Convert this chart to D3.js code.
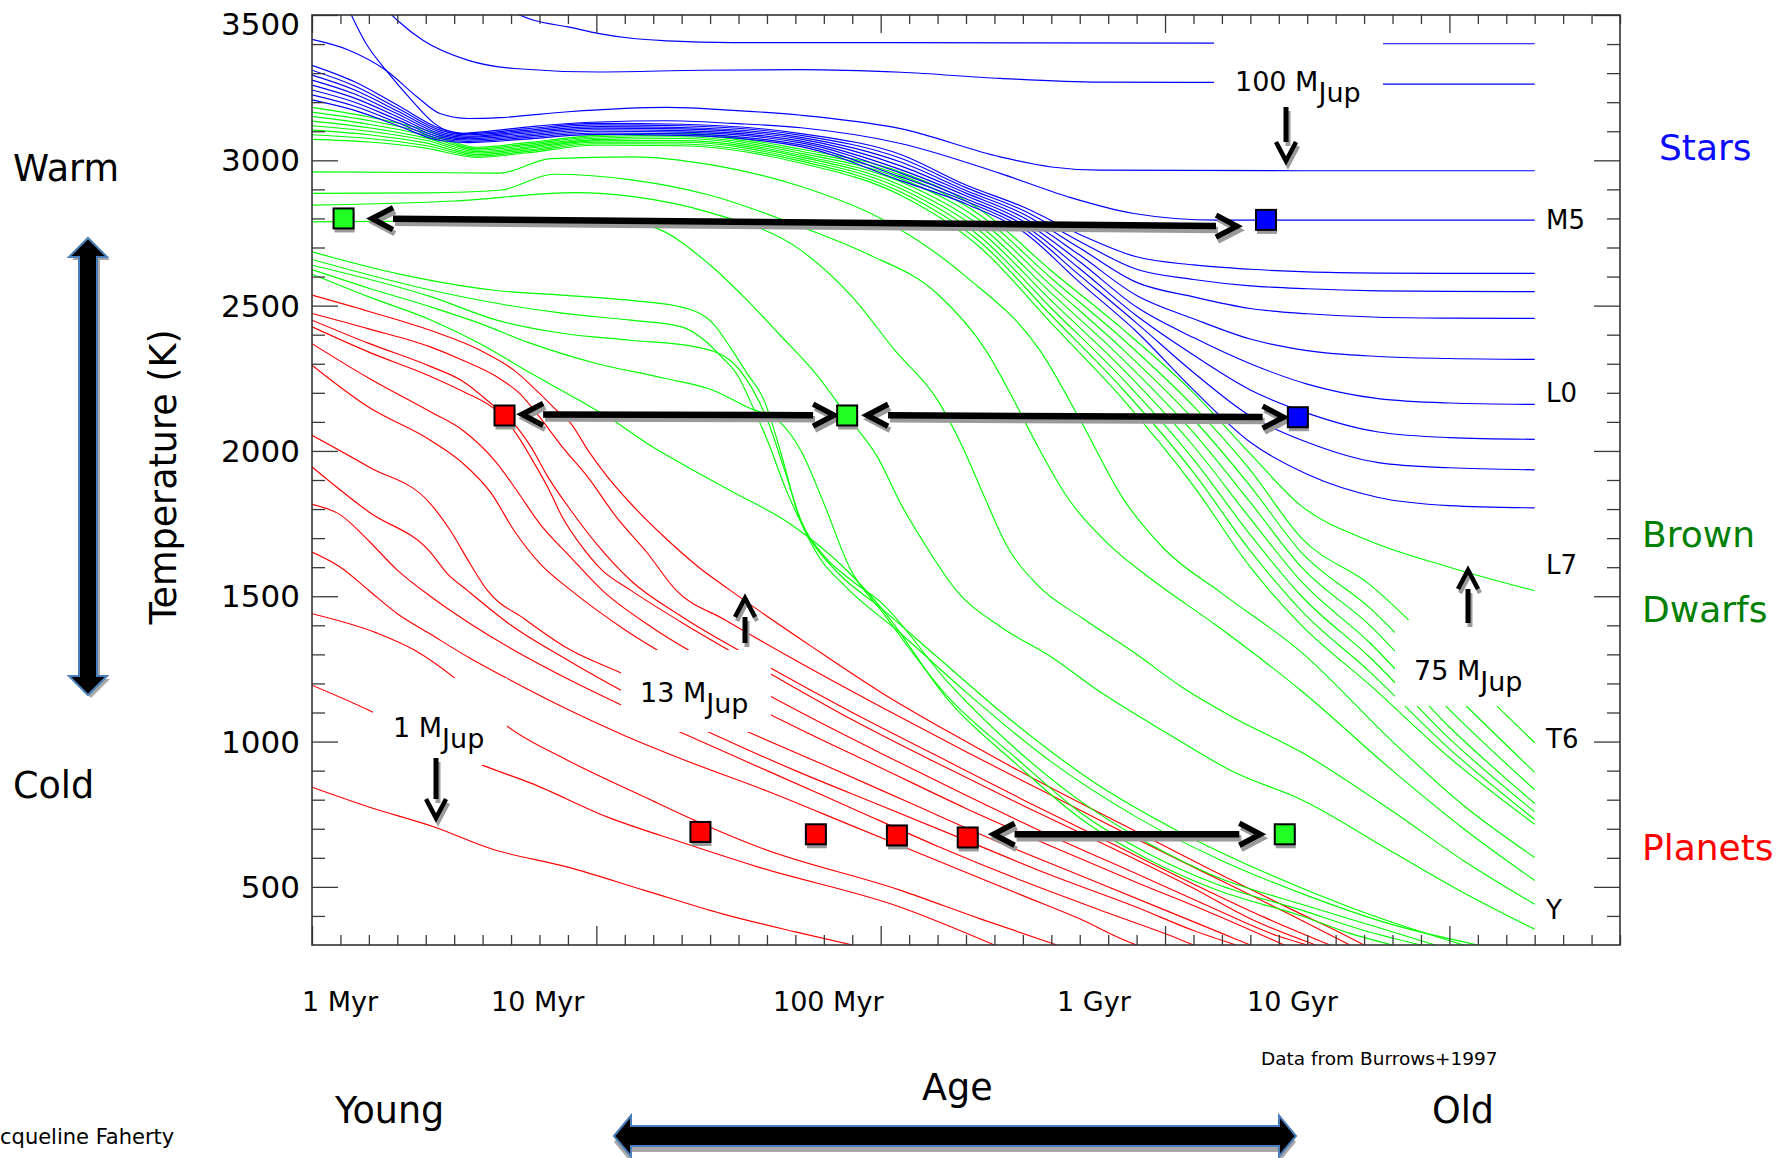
<!DOCTYPE html>
<html>
<head>
<meta charset="utf-8">
<script src="https://cdn.jsdelivr.net/npm/d3@7"></script>
<style>
  html, body { margin: 0; padding: 0; background: #fff; }
  svg { display: block; font-family: "DejaVu Sans", sans-serif; }
</style>
</head>
<body>
<svg id="chart" width="1791" height="1158"></svg>
<script>
// ---------------------------------------------------------------------------
// Cooling tracks: effective temperature (K) versus log10(age / yr)
// ---------------------------------------------------------------------------

// Stars: tracks read individually, as [logAge, Teff]
const starTracks = [
  [[6.68,3520],[6.78,3482],[6.9,3459],[7.01,3436],[7.13,3419],[7.25,3411],[7.48,3405],[7.72,3405],[8.5,3404],[9.17,3403],[9.77,3401],[10.3,3401]],
  [[6.24,3540],[6.3,3482],[6.39,3413],[6.55,3344],[6.71,3316],[7.01,3304],[7.37,3310],[7.72,3312],[8.07,3303],[8.42,3282],[8.77,3269],[9.17,3268],[9.77,3262],[10.3,3262]],
  [[6.0,3416],[6.13,3379],[6.26,3310],[6.37,3218],[6.45,3161],[6.55,3144],[6.66,3147],[6.9,3167],[7.25,3182],[7.48,3172],[7.72,3155],[8.07,3109],[8.42,3012],[8.6,2977],[8.77,2966],[9.48,2964],[10.3,2964]],
  [[6.11,3560],[6.19,3402],[6.26,3310],[6.35,3207],[6.43,3127],[6.51,3092],[6.6,3098],[6.78,3117],[7.01,3132],[7.25,3136],[7.48,3127],[7.72,3112],[8.07,3058],[8.42,2955],[8.66,2874],[8.89,2817],[9.18,2794],[10.3,2794]]
];

// Stars: the tight bundle of lower-mass stellar tracks on a shared age grid
const starBandAges = [6.0,6.15,6.3,6.45,6.55,6.75,7.0,7.3,7.72,8.07,8.3,8.5,8.7,8.9,9.1,9.3,9.5,9.75,10.0,10.3];
const starBandTemps = [
  [3327,3270,3190,3110,3092,3108,3127,3124,3092,3020,2915,2840,2745,2668,2640,2625,2616,2612,2611,2611],
  [3310,3256,3180,3104,3088,3103,3122,3119,3086,3007,2906,2828,2721,2625,2590,2568,2558,2551,2549,2548],
  [3293,3242,3170,3098,3083,3098,3116,3113,3079,2994,2896,2816,2698,2580,2530,2490,2472,2460,2457,2456],
  [3276,3228,3160,3092,3079,3093,3111,3108,3073,2981,2887,2804,2674,2535,2455,2385,2345,2325,2318,2315],
  [3259,3214,3150,3086,3074,3088,3105,3102,3066,2968,2878,2791,2651,2495,2390,2300,2230,2180,2165,2160],
  [3242,3200,3140,3080,3070,3083,3100,3097,3060,2956,2868,2779,2627,2465,2330,2210,2130,2065,2046,2040],
  [3225,3186,3130,3074,3065,3078,3094,3091,3053,2943,2859,2767,2604,2440,2270,2120,2030,1960,1942,1935],
  [3208,3172,3120,3068,3061,3073,3089,3086,3047,2930,2850,2755,2580,2410,2210,2030,1920,1840,1812,1804]
];

// Brown dwarfs: the upper bundle on a shared age grid (first row is 75 MJup)
const dwarfBandAges = [6.0,6.2,6.4,6.58,6.75,7.0,7.3,7.72,8.07,8.35,8.6,8.85,9.1,9.3,9.48,9.72,10.0,10.3];
const dwarfBandTemps = [
  [3182,3149,3104,3045,3060,3086,3093,3038,2960,2830,2620,2420,2200,1990,1810,1690,1600,1519],
  [3166,3137,3095,3040,3055,3081,3087,3031,2949,2811,2594,2386,2154,1934,1700,1540,1280,996],
  [3151,3124,3086,3035,3050,3076,3081,3024,2937,2793,2569,2351,2109,1879,1650,1460,1180,894],
  [3135,3112,3077,3030,3045,3071,3075,3017,2926,2774,2543,2317,2063,1823,1600,1400,1110,834],
  [3119,3100,3069,3025,3040,3067,3068,3011,2914,2756,2517,2283,2017,1767,1550,1340,1050,787],
  [3104,3088,3060,3020,3035,3062,3062,3004,2903,2737,2491,2249,1971,1711,1500,1290,1010,758],
  [3088,3075,3051,3015,3030,3057,3056,2997,2891,2719,2466,2214,1926,1656,1450,1240,975,732],
  [3072,3063,3042,3010,3025,3052,3050,2990,2880,2700,2440,2180,1880,1600,1400,1195,945,715]
];

// Brown dwarfs: individually read tracks
const dwarfTracks = [
  [[6.0,2960],[6.4,2958],[6.66,2956],[6.84,3006],[7.13,3012],[7.4,2985],[7.72,2910],[8.0,2800],[8.3,2600],[8.56,2346],[8.7,2110],[8.85,1840],[9.0,1660],[9.2,1510],[9.48,1307],[9.8,1000],[10.05,780],[10.3,601]],
  [[6.0,2886],[6.4,2888],[6.66,2897],[6.85,2952],[7.13,2932],[7.4,2880],[7.72,2771],[7.95,2679],[8.2,2540],[8.37,2346],[8.46,2190],[8.55,2020],[8.65,1850],[8.8,1680],[8.95,1560],[9.18,1400],[9.48,1174],[9.8,900],[10.05,700],[10.3,522]],
  [[6.0,2846],[6.5,2860],[6.93,2889],[7.13,2875],[7.4,2820],[7.72,2690],[7.9,2530],[8.05,2346],[8.2,2175],[8.28,2030],[8.37,1830],[8.44,1680],[8.55,1540],[8.71,1424],[8.89,1307],[9.06,1187],[9.24,1083],[9.48,963],[9.8,760],[10.05,590],[10.3,440]],
  [[6.0,2788],[6.5,2792],[7.0,2800],[7.2,2770],[7.4,2640],[7.53,2519],[7.64,2405],[7.78,2256],[7.88,2122],[7.99,1977],[8.07,1819],[8.15,1687],[8.27,1515],[8.42,1396],[8.6,1291],[8.77,1172],[9.01,1027],[9.24,896],[9.48,800],[9.8,620],[10.05,480],[10.3,354]],
  [[6.0,2685],[6.3,2610],[6.64,2553],[6.88,2536],[7.12,2518],[7.3,2495],[7.41,2439],[7.47,2358],[7.53,2267],[7.59,2174],[7.65,1990],[7.71,1780],[7.78,1640],[7.88,1530],[8.07,1372],[8.3,1170],[8.6,930],[8.9,740],[9.2,590],[9.5,470],[9.8,370],[10.1,300]],
  [[6.0,2659],[6.42,2553],[6.65,2508],[6.88,2474],[7.12,2450],[7.3,2427],[7.38,2381],[7.44,2324],[7.5,2255],[7.54,2174],[7.6,2040],[7.67,1860],[7.75,1700],[7.85,1580],[8.0,1460],[8.2,1290],[8.45,1080],[8.75,860],[9.05,690],[9.35,550],[9.65,430],[9.95,330],[10.05,300]],
  [[6.0,2639],[6.42,2530],[6.65,2450],[6.88,2405],[7.12,2381],[7.35,2358],[7.47,2312],[7.53,2243],[7.6,2110],[7.66,1940],[7.72,1760],[7.8,1640],[7.89,1560],[8.0,1480],[8.24,1200],[8.48,970],[8.71,790],[8.95,645],[9.18,535],[9.48,440],[9.75,360],[9.95,300]],
  [[6.0,2624],[6.2,2560],[6.42,2495],[6.59,2439],[6.77,2370],[7.0,2301],[7.24,2250],[7.41,2209],[7.53,2151],[7.65,2095],[7.72,2000],[7.8,1820],[7.89,1600],[8.01,1440],[8.24,1150],[8.48,940],[8.71,750],[8.95,610],[9.18,510],[9.48,420],[9.7,350],[9.9,300]],
  [[6.0,2608],[6.2,2530],[6.42,2450],[6.59,2370],[6.77,2267],[6.94,2174],[7.06,2105],[7.18,2025],[7.3,1956],[7.47,1864],[7.68,1750],[7.89,1580],[8.01,1450],[8.24,1140],[8.48,920],[8.71,730],[8.95,590],[9.18,490],[9.48,400],[9.65,340],[9.8,300]]
];

// Planets: individually read tracks (1 MJup first, 13 MJup last)
const planetTracks = [
  [[6.0,843],[6.2,775],[6.43,706],[6.63,631],[6.9,568],[7.17,488],[7.44,408],[7.7,345],[7.9,300]],
  [[6.0,1194],[6.2,1108],[6.4,1010],[6.6,919],[6.77,857],[7.04,740],[7.31,650],[7.57,568],[8.07,430],[8.4,300]],
  [[6.0,1440],[6.23,1373],[6.36,1315],[6.5,1220],[6.69,1050],[6.9,935],[7.17,809],[7.37,718],[7.57,637],[8.07,488],[8.35,390],[8.62,300]],
  [[6.0,1652],[6.1,1600],[6.2,1520],[6.3,1440],[6.416,1370],[6.55,1290],[6.7,1210],[6.9,1110],[7.1,1020],[7.3,940],[7.6,830],[7.9,710],[8.2,590],[8.5,470],[8.7,390],[8.85,320],[8.9,300]],
  [[6.0,1816],[6.1,1780],[6.2,1690],[6.3,1590],[6.416,1500],[6.55,1410],[6.7,1320],[6.9,1215],[7.1,1120],[7.3,1030],[7.6,900],[7.9,770],[8.2,640],[8.5,520],[8.8,410],[9.05,320],[9.1,300]],
  [[6.0,1945],[6.2,1790],[6.416,1652],[6.475,1579],[6.545,1521],[6.7,1400],[6.9,1280],[7.1,1170],[7.4,1030],[7.7,900],[8.0,780],[8.3,660],[8.6,540],[8.9,430],[9.1,350],[9.25,300]],
  [[6.0,2054],[6.2,1945],[6.416,1819],[6.486,1727],[6.556,1612],[6.616,1521],[6.75,1420],[6.9,1320],[7.1,1230],[7.3,1130],[7.54,1030],[7.8,920],[8.1,790],[8.4,660],[8.7,540],[9.0,420],[9.2,340],[9.3,300]],
  [[6.0,2295],[6.2,2150],[6.416,2037],[6.53,1958],[6.63,1855],[6.71,1727],[6.8,1614],[6.91,1521],[7.1,1385],[7.3,1265],[7.5,1150],[7.7,1050],[8.0,910],[8.3,770],[8.6,640],[8.9,515],[9.15,415],[9.35,330],[9.42,300]],
  [[6.0,2369],[6.2,2250],[6.416,2135],[6.53,2071],[6.65,1958],[6.72,1864],[6.8,1751],[6.91,1634],[7.02,1521],[7.2,1390],[7.44,1250],[7.7,1110],[8.0,960],[8.3,815],[8.6,675],[8.9,545],[9.15,435],[9.4,330],[9.5,300]],
  [[6.0,2427],[6.2,2340],[6.416,2257],[6.53,2205],[6.65,2137],[6.72,2057],[6.77,1977],[6.83,1873],[6.88,1773],[6.95,1670],[7.02,1590],[7.12,1521],[7.3,1410],[7.6,1240],[7.9,1075],[8.2,925],[8.5,780],[8.8,640],[9.1,495],[9.3,390],[9.53,300]],
  [[6.0,2450],[6.2,2370],[6.416,2291],[6.53,2240],[6.64,2154],[6.71,2094],[6.77,2014],[6.83,1910],[6.91,1796],[7.0,1681],[7.12,1555],[7.3,1430],[7.6,1260],[7.9,1100],[8.2,950],[8.5,800],[8.8,655],[9.1,510],[9.35,395],[9.58,300]],
  [[6.0,2473],[6.2,2420],[6.416,2358],[6.53,2312],[6.65,2255],[6.73,2198],[6.8,2117],[6.88,2014],[6.97,1910],[7.07,1773],[7.18,1648],[7.28,1521],[7.45,1420],[7.7,1280],[8.0,1120],[8.3,965],[8.6,815],[8.9,665],[9.2,520],[9.45,400],[9.65,300]],
  [[6.0,2536],[6.2,2480],[6.416,2415],[6.59,2347],[6.71,2278],[6.8,2198],[6.86,2140],[6.91,2095],[6.97,2003],[7.04,1910],[7.12,1820],[7.24,1703],[7.36,1600],[7.47,1521],[7.76,1325],[8.0,1170],[8.3,1000],[8.6,840],[8.9,690],[9.2,540],[9.45,420],[9.6,350],[9.7,300]]
];

// Example objects at equal temperature: log age, Teff, class
const markerAge   = [6.111, 9.355, 6.677, 7.882, 9.467, 7.366, 7.772, 8.057, 8.306, 9.421];
const markerTemp  = [2800,  2795,  2122,  2122,  2116,  689,   681,   677,   670,   681];
const markerClass = ["dwarf","star","planet","dwarf","star","planet","planet","planet","planet","dwarf"];

// Double-headed comparison arrows: [logAge, Teff] of each tip
const arrowFrom = [[6.211, 2800], [6.739, 2126], [7.952, 2123], [8.397, 681]];
const arrowTo   = [[9.253, 2773], [7.836, 2123], [9.417, 2116], [9.335, 681]];

// Axis labels
const tempTicks = [500, 1000, 1500, 2000, 2500, 3000, 3500];
const ageLabels = ["1 Myr", "10 Myr", "100 Myr", "1 Gyr", "10 Gyr"];
const spectralTypes = ["M5", "L0", "L7", "T6", "Y"];
const spectralTemps = [2795, 2200, 1610, 1010, 420];
const classLabels = ["Stars", "Brown", "Dwarfs", "Planets"];
const massLabels = ["100", "75", "13", "1"];

// ---------------------------------------------------------------------------
const colors = { star: "#0000ff", dwarf: "#00ff00", planet: "#ff0000" };
const markerFill = { star: "#0000ff", dwarf: "#22ff22", planet: "#ff0000" };

const svg = d3.select("#chart");
const plot = { left: 312, right: 1620, top: 15, bottom: 945 };

const x = d3.scaleLinear().domain([6, 10.6]).range([plot.left, plot.right]);
const y = d3.scaleLinear().domain([300, 3500]).range([plot.bottom, plot.top]);

// ---- curves --------------------------------------------------------------
svg.append("clipPath").attr("id", "plotClip")
  .append("rect")
  .attr("x", plot.left).attr("y", plot.top)
  .attr("width", plot.right - plot.left).attr("height", plot.bottom - plot.top);

const line = d3.line()
  .x(d => x(d[0]))
  .y(d => y(d[1]))
  .curve(d3.curveMonotoneX);

const onGrid = (ages, temps) => temps.map(row => row.map((t, i) => [ages[i], t]));

const curves = svg.append("g").attr("clip-path", "url(#plotClip)")
  .attr("fill", "none").attr("stroke-width", 1.15);

function drawTracks(tracks, color) {
  curves.append("g").attr("stroke", color)
    .selectAll("path").data(tracks).join("path")
    .attr("d", line);
}
drawTracks(planetTracks, colors.planet);
drawTracks(dwarfTracks, colors.dwarf);
drawTracks(onGrid(dwarfBandAges, dwarfBandTemps), colors.dwarf);
drawTracks(onGrid(starBandAges, starBandTemps), colors.star);
drawTracks(starTracks, colors.star);

// ---- frame and ticks -----------------------------------------------------
const minorX = d3.range(60, 107).map(v => v / 10).filter(v => !Number.isInteger(v));
const majorX = [6, 7, 8, 9, 10];
const minorY = d3.range(4, 35).map(v => v * 100).filter(v => v % 500 !== 0);
const majorY = tempTicks;

function tickAxis(axis, pos, values, size) {
  const g = svg.append("g")
    .attr("transform", pos)
    .call(axis.tickValues(values).tickSize(size).tickSizeOuter(0).tickFormat(""));
  g.select(".domain").remove();
  g.selectAll("line").attr("stroke", "#3a3a3a").attr("stroke-width", 1.3);
  return g;
}
tickAxis(d3.axisBottom(x), `translate(0,${plot.bottom})`, minorX, -10);
tickAxis(d3.axisBottom(x), `translate(0,${plot.bottom})`, majorX, -19);
tickAxis(d3.axisTop(x), `translate(0,${plot.top})`, minorX, -9);
tickAxis(d3.axisTop(x), `translate(0,${plot.top})`, majorX, -18);
tickAxis(d3.axisLeft(y), `translate(${plot.left},0)`, minorY, -13);
tickAxis(d3.axisLeft(y), `translate(${plot.left},0)`, majorY, -26);
tickAxis(d3.axisRight(y), `translate(${plot.right},0)`, minorY, -13);
tickAxis(d3.axisRight(y), `translate(${plot.right},0)`, majorY, -26);

svg.append("rect")
  .attr("x", plot.left).attr("y", plot.top)
  .attr("width", plot.right - plot.left).attr("height", plot.bottom - plot.top)
  .attr("fill", "none").attr("stroke", "#333").attr("stroke-width", 1.6);

// temperature tick labels
svg.append("g").selectAll("text").data(tempTicks).join("text")
  .attr("x", plot.left - 12)
  .attr("y", d => Math.max(y(d), plot.top + 9))
  .attr("dy", "0.36em")
  .attr("text-anchor", "end")
  .attr("font-size", 31)
  .attr("fill", "#000")
  .text(d => d);

// age labels (placed under the axis as slide text)
const ageLabelX = [302, 491, 773, 1057, 1247];
svg.append("g").selectAll("text").data(ageLabels).join("text")
  .attr("x", (d, i) => ageLabelX[i])
  .attr("y", 1011)
  .attr("font-size", 27)
  .text(d => d);

svg.append("text")
  .attr("transform", "translate(176,477) rotate(-90)")
  .attr("text-anchor", "middle")
  .attr("font-size", 36.5)
  .text("Temperature (K)");

// spectral types along the right edge
svg.append("g").selectAll("text").data(spectralTypes).join("text")
  .attr("x", 1546)
  .attr("y", (d, i) => y(spectralTemps[i]))
  .attr("dy", "0.36em")
  .attr("font-size", 26)
  .text(d => d);

// class labels
const classX = [1659, 1642, 1642, 1642];
const classY = [160, 547, 622, 860];
const classColor = ["#0a0aff", "#008000", "#008000", "#ff0000"];
svg.append("g").selectAll("text").data(classLabels).join("text")
  .attr("x", (d, i) => classX[i])
  .attr("y", (d, i) => classY[i])
  .attr("font-size", 36)
  .attr("fill", (d, i) => classColor[i])
  .text(d => d);

// ---- mass labels with white backing -------------------------------------
const massBox = [[1214, 28, 169, 72], [1395, 620, 145, 86], [621, 650, 150, 82], [373, 678, 134, 87]];
const massText = [[1235, 91], [1414, 680], [640, 702], [393, 737]];
const ann = svg.append("g");
ann.selectAll("rect.box").data(massBox).join("rect")
  .attr("class", "box")
  .attr("x", d => d[0]).attr("y", d => d[1])
  .attr("width", d => d[2]).attr("height", d => d[3])
  .attr("fill", "#fff");
massLabels.forEach((m, i) => {
  const t = ann.append("text")
    .attr("x", massText[i][0]).attr("y", massText[i][1])
    .attr("font-size", 27);
  t.append("tspan").text(m + " M");
  t.append("tspan").attr("dy", 11).text("Jup");
});

// ---- arrows ----------------------------------------------------------------
function arrow(g, p1, p2, twoHeads, shaftW, headW, back, half) {
  const dx = p2[0] - p1[0], dy = p2[1] - p1[1];
  const len = Math.hypot(dx, dy), ux = dx / len, uy = dy / len;
  const nx = -uy, ny = ux;
  const s1 = twoHeads ? [p1[0] + ux * back, p1[1] + uy * back] : p1;
  const s2 = [p2[0] - ux * back, p2[1] - uy * back];
  g.append("line")
    .attr("x1", s1[0]).attr("y1", s1[1]).attr("x2", s2[0]).attr("y2", s2[1])
    .attr("stroke-width", shaftW);
  const head = (tip, sx, sy) => [
    [tip[0] + sx * back + nx * half, tip[1] + sy * back + ny * half],
    tip,
    [tip[0] + sx * back - nx * half, tip[1] + sy * back - ny * half]
  ];
  const heads = [head(p2, -ux, -uy)];
  if (twoHeads) heads.push(head(p1, ux, uy));
  heads.forEach(h => g.append("polyline")
    .attr("points", h.map(p => p.join(",")).join(" "))
    .attr("fill", "none")
    .attr("stroke-width", headW)
    .attr("stroke-linejoin", "miter")
    .attr("stroke-miterlimit", 4));
}

function withShadow(drawFn) {
  const sh = svg.append("g").attr("stroke", "#9a9a9a").attr("transform", "translate(2,4)");
  drawFn(sh);
  const fg = svg.append("g").attr("stroke", "#000");
  drawFn(fg);
}

// comparison arrows between equal-temperature objects
withShadow(g => {
  arrowFrom.forEach((a, i) => {
    const b = arrowTo[i];
    arrow(g, [x(a[0]), y(a[1])], [x(b[0]), y(b[1])], true, 6.5, 5.5, 21, 11);
  });
});

// pointer arrows for the mass labels
const pointerX = [1286, 1468, 745, 436];
const pointerTail = [107, 623, 643, 758];
const pointerTip = [161, 570, 598, 818];
withShadow(g => {
  pointerX.forEach((px, i) => {
    arrow(g, [px, pointerTail[i]], [px, pointerTip[i]], false, 5, 4.5, 19, 10);
  });
});

// ---- markers -----------------------------------------------------------------
const mk = svg.append("g");
mk.selectAll("rect.sh").data(markerAge).join("rect")
  .attr("class", "sh")
  .attr("x", (d, i) => x(d) - 10 + 1).attr("y", (d, i) => y(markerTemp[i]) - 10 + 4)
  .attr("width", 20).attr("height", 20)
  .attr("fill", "#9a9a9a");
mk.selectAll("rect.mk").data(markerAge).join("rect")
  .attr("class", "mk")
  .attr("x", (d, i) => x(d) - 10).attr("y", (d, i) => y(markerTemp[i]) - 10)
  .attr("width", 20).attr("height", 20)
  .attr("fill", (d, i) => markerFill[markerClass[i]])
  .attr("stroke", "#000").attr("stroke-width", 2);

// ---- slide annotations -------------------------------------------------------
svg.append("text").attr("x", 13).attr("y", 181).attr("font-size", 36.5).text("Warm");
svg.append("text").attr("x", 13).attr("y", 798).attr("font-size", 36.5).text("Cold");
svg.append("text").attr("x", 335).attr("y", 1123).attr("font-size", 36.5).text("Young");
svg.append("text").attr("x", 922).attr("y", 1100).attr("font-size", 36.5).text("Age");
svg.append("text").attr("x", 1432).attr("y", 1123).attr("font-size", 36.5).text("Old");
svg.append("text").attr("x", 1261).attr("y", 1065).attr("font-size", 18.5).text("Data from Burrows+1997");
svg.append("text").attr("x", 0).attr("y", 1144).attr("font-size", 21).text("cqueline Faherty");

// block arrows: warm <-> cold and young <-> old
const vArrow = [[88,238],[107,257],[97,257],[97,676],[107,676],[88,695],[69,676],[79,676],[79,257],[69,257]];
const hArrow = [[614,1136],[631,1115.5],[631,1126],[1279,1126],[1279,1115.5],[1296,1136],[1279,1156.5],[1279,1146],[631,1146],[631,1156.5]];
[[vArrow, "translate(3,3)"], [hArrow, "translate(0,6)"]].forEach(([pts, off]) => {
  svg.append("polygon").attr("points", pts.map(p => p.join(",")).join(" "))
    .attr("fill", "#a8a8a8").attr("transform", off);
  svg.append("polygon").attr("points", pts.map(p => p.join(",")).join(" "))
    .attr("fill", "#000").attr("stroke", "#4a7ebb").attr("stroke-width", 2);
});
</script>
</body>
</html>
